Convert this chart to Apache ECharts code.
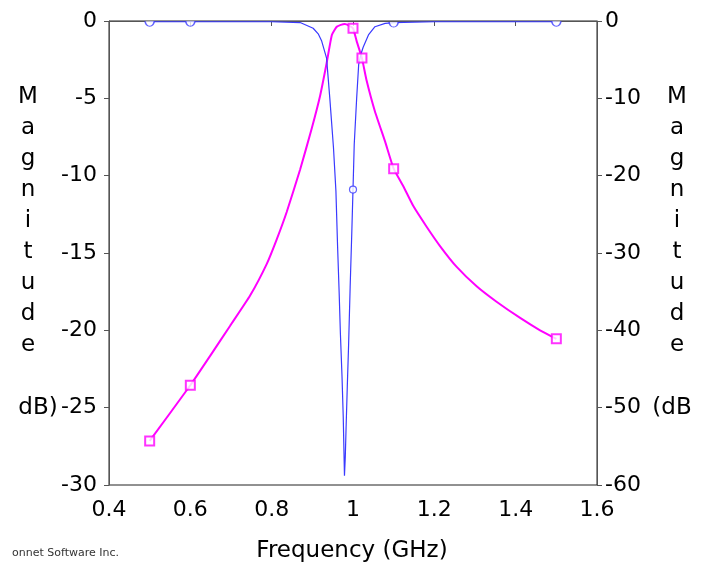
<!DOCTYPE html>
<html><head><meta charset="utf-8">
<script src="https://cdn.jsdelivr.net/npm/echarts@6/dist/echarts.min.js"></script>
<style>html,body{margin:0;padding:0;background:#fff}#c{width:705px;height:563px}</style>
</head><body><div id="c"></div>
<script>
// Blue curve (left axis, dB, -30..0)
const blueFreq = [0.5, 0.6, 0.7, 0.8, 0.87, 0.902, 0.915, 0.923, 0.935, 0.943, 0.952, 0.958, 0.962, 0.966, 0.969, 0.973, 0.976, 0.979, 0.981, 0.983, 0.986, 0.989, 0.993, 0.997, 1.0, 1.003, 1.009, 1.014, 1.02, 1.025, 1.038, 1.054, 1.079, 1.1, 1.2, 1.3, 1.4, 1.5];
const blueDb   = [-0.05, -0.05, -0.05, -0.05, -0.1, -0.47, -0.85, -1.3, -2.4, -5.0, -8.2, -11.0, -14.5, -17.6, -20.2, -23.0, -25.6, -29.4, -28.2, -26.3, -23.6, -21.1, -17.2, -13.7, -10.9, -8.0, -5.0, -2.8, -2.1, -1.7, -0.9, -0.37, -0.15, -0.1, -0.05, -0.05, -0.05, -0.05];
const blueMarkFreq = [0.5, 0.6, 1.0, 1.1, 1.5];
const blueMarkDb   = [-0.05, -0.05, -10.9, -0.1, -0.05];

// Magenta curve (right axis, dB, -60..0)
const magFreq = [0.5, 0.6, 0.65, 0.698, 0.747, 0.788, 0.812, 0.837, 0.87, 0.898, 0.919, 0.935, 0.948, 0.96, 0.97, 0.98, 0.99, 1.0, 1.009, 1.022, 1.033, 1.054, 1.079, 1.1, 1.124, 1.148, 1.181, 1.214, 1.255, 1.304, 1.353, 1.411, 1.46, 1.5];
const magDb   = [-54.3, -47.1, -43.2, -39.4, -35.5, -31.4, -28.3, -24.7, -19.2, -14.0, -9.7, -5.5, -1.8, -0.74, -0.5, -0.4, -0.6, -0.94, -2.6, -4.8, -7.6, -11.7, -15.6, -19.1, -21.4, -23.9, -26.6, -29.1, -31.8, -34.3, -36.3, -38.4, -40.0, -41.1];
const magMarkFreq = [0.5, 0.6, 1.0, 1.022, 1.1, 1.5];
const magMarkDb   = [-54.3, -47.1, -0.94, -4.8, -19.1, -41.1];

const xTicks = {min: 0.4, max: 1.6, step: 0.2};
const leftTicks = {min: -30, max: 0, step: 5};
const rightTicks = {min: -60, max: 0, step: 10};

const FONT = '"DejaVu Sans", sans-serif';
const zip = (a, b) => a.map((v, i) => [v, b[i]]);
const HALF_CIRCLE = 'path://M0,0 A10,10 0 0 0 20,0';

const axisCommon = {
  axisLine: {show: true, lineStyle: {color: '#555', width: 1}},
  axisTick: {show: true, inside: false, length: 5, lineStyle: {color: '#555'}},
  splitLine: {show: false},
  axisLabel: {color: '#000', fontSize: 22, fontFamily: FONT}
};

// Markers sitting on the top border are drawn as lower half circles (upper half hidden by the frame)
const blueMarks = blueMarkFreq.map((f, i) => {
  const v = blueMarkDb[i];
  if (v > -0.5) {
    return {value: [f, v], symbol: HALF_CIRCLE, symbolSize: [9, 5], symbolOffset: [0, 2]};
  }
  return {value: [f, v]};
});

const chart = echarts.init(document.getElementById('c'), null, {renderer: 'canvas'});
chart.setOption({
  animation: false,
  backgroundColor: '#fff',
  grid: {left: 109, right: 108, top: 21, bottom: 78, show: true, borderColor: '#222', borderWidth: 1, backgroundColor: 'transparent'},
  xAxis: Object.assign({}, axisCommon, {
    type: 'value', min: xTicks.min, max: xTicks.max, interval: xTicks.step,
    axisLabel: Object.assign({}, axisCommon.axisLabel, {margin: 14})
  }),
  yAxis: [
    Object.assign({}, axisCommon, {
      type: 'value', position: 'left', min: leftTicks.min, max: leftTicks.max, interval: leftTicks.step,
      axisLabel: Object.assign({}, axisCommon.axisLabel, {margin: 12})
    }),
    Object.assign({}, axisCommon, {
      type: 'value', position: 'right', min: rightTicks.min, max: rightTicks.max, interval: rightTicks.step,
      axisLabel: Object.assign({}, axisCommon.axisLabel, {margin: 8})
    })
  ],
  series: [
    {type: 'line', yAxisIndex: 1, data: zip(magFreq, magDb), showSymbol: false, symbol: 'none',
     smooth: 0.15,
     lineStyle: {color: '#ff00ff', width: 2}, z: 2},
    {type: 'line', yAxisIndex: 0, data: zip(blueFreq, blueDb), showSymbol: false, symbol: 'none',
     lineStyle: {color: '#3a3aff', width: 1.2}, z: 3},
    {type: 'scatter', yAxisIndex: 1, data: zip(magMarkFreq, magMarkDb), symbol: 'rect', symbolSize: 9,
     itemStyle: {color: '#fff', borderColor: '#ff00ff', borderWidth: 2}, z: 4},
    {type: 'scatter', yAxisIndex: 0, data: blueMarks, symbol: 'circle', symbolSize: 7,
     itemStyle: {color: '#fff', borderColor: '#3a3aff', borderWidth: 1.2}, z: 5}
  ],
  graphic: [
    {type: 'text', position: [28, 82], style: {text: 'M\na\ng\nn\ni\nt\nu\nd\ne', lineHeight: 31, fontSize: 23, fontFamily: FONT, fill: '#000', align: 'center', verticalAlign: 'top'}},
    {type: 'text', position: [38, 408], style: {text: 'dB)', fontSize: 23, fontFamily: FONT, fill: '#000', align: 'center', verticalAlign: 'middle'}},
    {type: 'text', position: [677, 82], style: {text: 'M\na\ng\nn\ni\nt\nu\nd\ne', lineHeight: 31, fontSize: 23, fontFamily: FONT, fill: '#000', align: 'center', verticalAlign: 'top'}},
    {type: 'text', position: [672, 408], style: {text: '(dB', fontSize: 23, fontFamily: FONT, fill: '#000', align: 'center', verticalAlign: 'middle'}},
    {type: 'text', position: [352, 551], style: {text: 'Frequency (GHz)', fontSize: 23, fontFamily: FONT, fill: '#000', align: 'center', verticalAlign: 'middle'}},
    {type: 'text', position: [12, 553], style: {text: 'onnet Software Inc.', fontSize: 11, fontFamily: FONT, fill: '#333', align: 'left', verticalAlign: 'middle'}}
  ]
});
</script></body></html>
